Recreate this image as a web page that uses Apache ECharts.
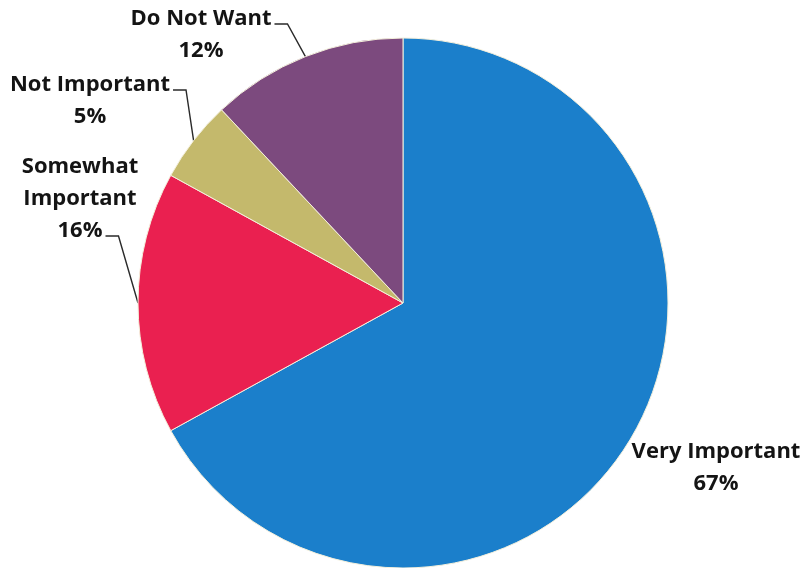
<!DOCTYPE html>
<html>
<head>
<meta charset="utf-8">
<script src="https://cdn.jsdelivr.net/npm/echarts@6/dist/echarts.min.js"></script>
<style>
html,body{margin:0;padding:0;background:#fff;}
#chart{width:803px;height:568px;}
</style>
</head>
<body>
<div id="chart"></div>
<script>
// ---- data ----
const categories = ['Very Important', 'Somewhat Important', 'Not Important', 'Do Not Want'];
const labelNames = ['Very Important', 'Somewhat\nImportant', 'Not Important', 'Do Not Want'];
const values = [67, 16, 5, 12];
const colors = ['#1b7fcb', '#ea2050', '#c4b96c', '#7c4a7e'];

// ---- label layout (positions only) ----
const FONT_SIZE = 22;
const FONT = 'bold ' + FONT_SIZE + 'px "Open Sans"';
const LINE_H = 32;
const labelLayoutCfg = [
  { x: 716, y: 468, row: -1 },
  { x: 80, y: 199, row: 2 },
  { x: 90, y: 101, row: 0 },
  { x: 201, y: 35, row: 0 }
];

const measureCtx = document.createElement('canvas').getContext('2d');
measureCtx.font = FONT;

const chart = echarts.init(document.getElementById('chart'), null, { renderer: 'canvas' });

const data = categories.map((c, i) => ({
  name: c,
  value: values[i],
  itemStyle: { color: colors[i] },
  labelLine: { show: labelLayoutCfg[i].row >= 0 }
}));

chart.setOption({
  animation: false,
  backgroundColor: '#ffffff',
  series: [{
    type: 'pie',
    center: [403, 303],
    radius: [0, 265],
    startAngle: 90,
    clockwise: true,
    avoidLabelOverlap: false,
    data: data,
    itemStyle: { borderColor: '#f4f0dc', borderWidth: 1 },
    label: {
      show: true,
      position: 'outside',
      formatter: p => labelNames[p.dataIndex] + '\n' + p.value + '%',
      fontFamily: '"Open Sans", sans-serif',
      fontWeight: 'bold',
      fontSize: FONT_SIZE,
      lineHeight: LINE_H,
      color: '#141414',
      align: 'center'
    },
    labelLine: {
      show: true,
      lineStyle: { color: '#2a2a2a', width: 1.4 }
    },
    labelLayout: function (params) {
      const cfg = labelLayoutCfg[params.dataIndex];
      const lines = params.text.split('\n');
      const res = { x: cfg.x, y: cfg.y, align: 'center', verticalAlign: 'middle' };
      if (cfg.row >= 0 && params.labelLinePoints) {
        const rowY = cfg.y - (lines.length - 1) * LINE_H / 2 + cfg.row * LINE_H;
        const w = measureCtx.measureText(lines[cfg.row]).width;
        const start = [cfg.x + w / 2 + 3, rowY + 5];
        const bend = [start[0] + 13, start[1]];
        const anchor = params.labelLinePoints[0];
        res.labelLinePoints = [anchor, bend, start];
      }
      return res;
    }
  }]
});
</script>
</body>
</html>
